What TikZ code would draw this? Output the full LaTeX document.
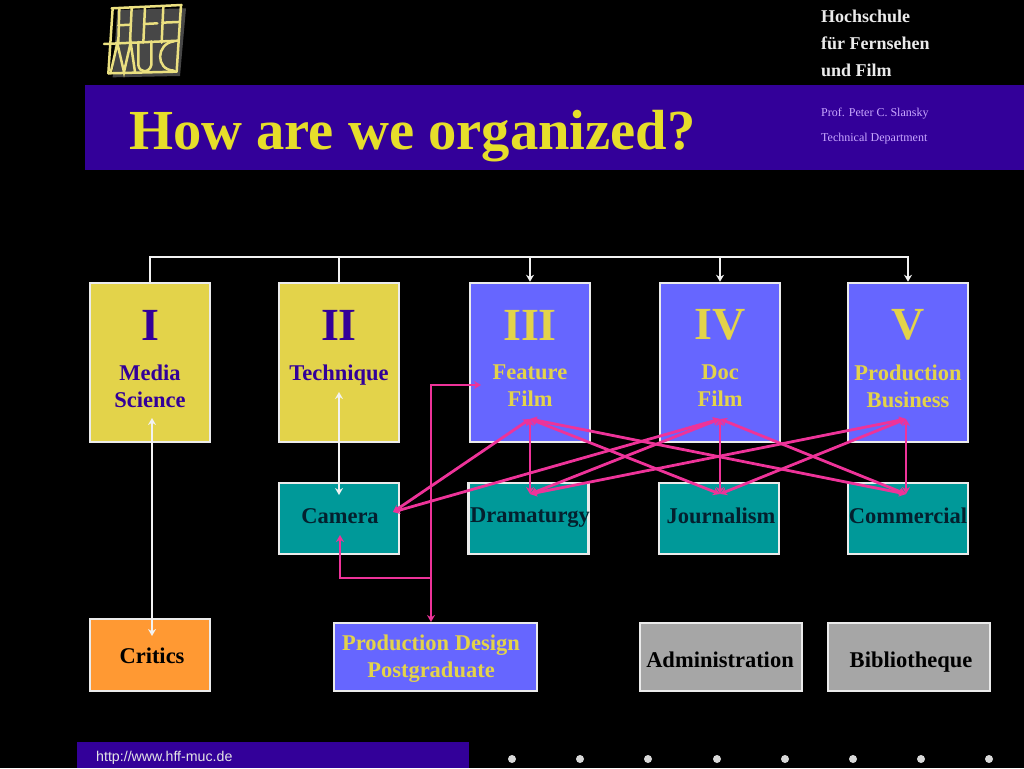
\documentclass[tikz,border=0pt]{standalone}
\usepackage{fontspec}
\usetikzlibrary{arrows.meta}
\setmainfont{Liberation Serif}
\newfontfamily\urlfont{Liberation Sans}
\definecolor{bandblue}{HTML}{330099}
\definecolor{boxyellow}{HTML}{E3D34A}
\definecolor{boxviolet}{HTML}{6666FF}
\definecolor{boxteal}{HTML}{009999}
\definecolor{boxorange}{HTML}{FF9933}
\definecolor{boxgray}{HTML}{A6A6A6}
\definecolor{linkpink}{HTML}{EE3399}
\definecolor{titleyellow}{HTML}{E6DE2A}
\definecolor{textdark}{HTML}{04202E}
\definecolor{textlilac}{HTML}{C9A8FF}
\begin{document}
\begin{tikzpicture}
[x=1pt,y=-1pt,
  boxdecorate/.style={shape=rectangle,draw=white!92!black,line width=2.5pt,inner sep=0pt},%
  linedecorate/.style={-,line width=2.6pt,white!95!black},%
  linkdecorate/.style={-,line width=2.8pt,linkpink},%
  numeraldecorate/.style={font=\bfseries\fontsize{46}{50}\selectfont,inner sep=0pt},%
  labeldecorate/.style={font=\bfseries\fontsize{22.5}{27}\selectfont,align=center,inner sep=0pt},%
  headdecorate/.style={anchor=base west,inner sep=0pt},%
  >={Stealth[length=7pt,width=8pt]}]
\useasboundingbox[fill=black] (0,0) rectangle (1024,768);
%% bands
\fill[bandblue] (85,85) rectangle (1024,170);
\fill[bandblue] (77,742) rectangle (469,768);
\node (title) at (129,149) [headdecorate,text=titleyellow,font=\bfseries\fontsize{56.6}{60}\selectfont] {How are we organized?};
\foreach \nodename/\y/\caption in {
  school/23/Hochschule, tv/49/für Fernsehen, film/76/und Film} {
  \node (\nodename) at (821,\y) [headdecorate,text=white!92!black,font=\bfseries\fontsize{18}{20}\selectfont] {\caption};
}
\foreach \nodename/\y/\caption in {
  prof/116/Prof. Peter C. Slansky, dept/141/Technical Department} {
  \node (\nodename) at (821,\y) [headdecorate,text=textlilac,font=\fontsize{12}{14}\selectfont] {\caption};
}
\node (url) at (96,761) [headdecorate,text=white!90!black,font=\urlfont\fontsize{14.2}{16}\selectfont] {http://www.hff-muc.de};
\foreach \x in {512,580,648,717,785,853,921,989} {
  \fill[white!85!black] (\x,759) circle (4);
}
%% logo
\begin{scope}[shift={(80,0)},scale=0.3333,line width=2.5pt,boxyellow!70!white,line cap=round]
\fill[black!72!white] (112,30) -- (318,25) -- (300,228) -- (98,232) -- cycle;
\draw (95,25) -- (305,15) (72,132) -- (295,122) (85,220) -- (290,215);
\draw (98,25) -- (85,220) (303,15) -- (290,215);
\foreach \xa/\xb/\ya in {118/115/26, 155/150/24, 195/190/22, 250/245/20} {
  \draw (\xa,\ya) -- (\xb,128);
}
\draw (115,76) -- (152,74) (192,72) -- (232,70) (247,68) -- (295,66);
\draw (92,218) -- (112,130) -- (132,216) -- (152,128) -- (165,216);
\draw (175,126) -- (175,195) .. controls (178,220) and (208,220) .. (214,195) -- (214,124);
\draw (282,124) .. controls (228,130) and (225,210) .. (282,212);
\end{scope}
%% boxes of the first row
\foreach \nodename/\x/\boxcolor/\textcolor/\numeral/\caption in {
  media/150/boxyellow/bandblue/I/{Media\\Science},
  technique/339/boxyellow/bandblue/II/Technique,
  feature/530/boxviolet/boxyellow/III/{Feature\\Film},
  doc/720/boxviolet/boxyellow/IV/{Doc\\Film},
  business/908/boxviolet/boxyellow/V/{Production\\Business}} {
  \node (\nodename) at (\x,362.5) [boxdecorate,fill=\boxcolor,minimum width=120,minimum height=159] {};
  \node (\nodename num) at (\x,325) [numeraldecorate,text=\textcolor] {\numeral};
  \node (\nodename txt) at (\x,364.5) [labeldecorate,anchor=north,text=\textcolor] {\caption};
}
%% boxes of the other rows
\foreach \nodename/\x/\y/\w/\h/\tx/\ty/\boxcolor/\textcolor/\caption in {
  camera/339/518.5/120/71/340/516/boxteal/textdark/Camera,
  dramaturgy/528.5/518.5/120/71/530/518/boxteal/textdark/Dramaturgy,
  journalism/719/518.5/120/71/721/516/boxteal/textdark/Journalism,
  commercial/908/518.5/120/71/908/516/boxteal/textdark/Commercial,
  critics/150/655/120/72/152/656/boxorange/black/Critics,
  design/435.5/657/203/68/431/659/boxviolet/boxyellow/{Production Design\\Postgraduate},
  admin/721/657/162/68/720/660/boxgray/black/Administration,
  library/909/657/162/68/911/662/boxgray/black/Bibliotheque} {
  \node (\nodename) at (\x,\y) [boxdecorate,fill=\boxcolor,minimum width=\w,minimum height=\h] {};
  \node (\nodename txt) at (\tx,\ty) [labeldecorate,text=\textcolor] {\caption};
}
%% free ends of the connectors
\foreach \nodename/\x/\y in {
  topleft/150/257, topright/908/257, toptechnique/339/257, topfeature/530/257, topdoc/720/257,
  hubfeature/530/419, hubdoc/720/419, hubbusiness/906/419,
  endcamera/393/512, enddrama/530/494, endjournal/720/494, endcommercial/906/494,
  techtop/339/392, techlow/339/495, mediatop/152/418, criticlow/152/636,
  featureend/481/385, featurecorner/431/385, designtop/431/622,
  cameraend/340/535, cameracorner/340/578, camerajoin/431/578} {
  \coordinate (\nodename) at (\x,\y);
}
%% white lines
\draw[linedecorate,->] (media.north) -- (topleft) -- (topright) -- (business.north);
\draw[linedecorate] (toptechnique) -- (technique.north);
\draw[linedecorate,->] (topfeature) -- (feature.north);
\draw[linedecorate,->] (topdoc) -- (doc.north);
\draw[linedecorate,<->] (techtop) -- (techlow);
\draw[linedecorate,<->] (mediatop) -- (criticlow);
%% pink lines
\path
\foreach \startnode/\endnode in {
  hubfeature/endcamera, hubfeature/enddrama, hubfeature/endjournal, hubfeature/endcommercial,
  hubdoc/endcamera, hubdoc/enddrama, hubdoc/endjournal, hubdoc/endcommercial,
  hubbusiness/enddrama, hubbusiness/endjournal, hubbusiness/endcommercial} {
  (\startnode) edge[linkdecorate,<->] node {} (\endnode)
};
\draw[linkdecorate,<->] (featureend) -- (featurecorner) -- (designtop);
\draw[linkdecorate,<-] (cameraend) -- (cameracorner) -- (camerajoin);
\end{tikzpicture}
\end{document}
